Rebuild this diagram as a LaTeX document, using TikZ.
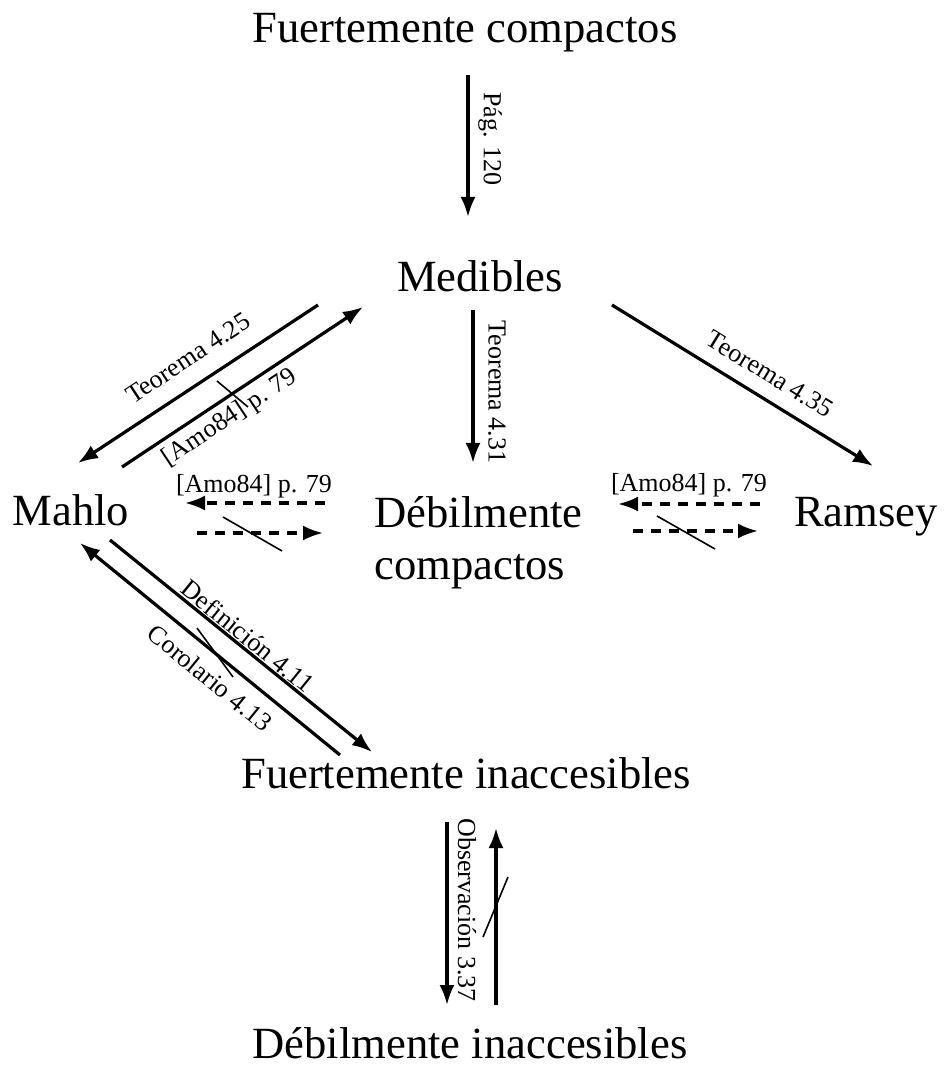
\documentclass[tikz,border=0pt]{standalone}
\usepackage{fontspec}
\setmainfont{Liberation Serif}
\usetikzlibrary{arrows.meta}
\tikzset{
  concept/.style={inner sep=0pt, anchor=base, font=\fontsize{22.3}{26}\selectfont},
  lbl/.style={inner sep=0pt, font=\fontsize{13}{15}\selectfont},
  flow/.style={-{Latex[length=10pt,width=7.5pt]}, line width=1.6pt},
  weak/.style={flow, dash pattern=on 5pt off 4pt},
  cut/.style={line width=0.8pt}
}

\begin{document}
\begin{tikzpicture}[x=0.5pt, y=-0.5pt]
\useasboundingbox (0,0) rectangle (943,1068);

% cardinal notions
\node[concept] (fc) at (465,43) {Fuertemente compactos};
\node[concept] (med) at (480,292) {Medibles};
\node[concept] (mahlo) at (71,525) {Mahlo};
\node[concept, anchor=base west, align=left] (dc) at (374,579) {Débilmente\\compactos};
\node[concept] (ramsey) at (866,526) {Ramsey};
\node[concept] (fi) at (466,788) {Fuertemente inaccesibles};
\node[concept] (di) at (470,1058) {Débilmente inaccesibles};

% arrow ends
\coordinate (fc-s) at (468,75);
\coordinate (med-n) at (468,217);
\coordinate (med-s) at (473,310);
\coordinate (dc-n) at (473,463);
\coordinate (med-sw) at (318,305);
\coordinate (mahlo-ne) at (78,463);
\coordinate (mahlo-e) at (122,467);
\coordinate (med-w) at (363,307);
\coordinate (med-se) at (612,305);
\coordinate (ramsey-nw) at (873,466);
\coordinate (dc-w1) at (325,503);
\coordinate (mahlo-e1) at (185,503);
\coordinate (mahlo-e2) at (197,533);
\coordinate (dc-w2) at (323,533);
\coordinate (ramsey-w1) at (760,504);
\coordinate (dc-e1) at (618,504);
\coordinate (dc-e2) at (633,531);
\coordinate (ramsey-w2) at (758,531);
\coordinate (mahlo-se) at (110,540);
\coordinate (fi-nw) at (372,752);
\coordinate (fi-w) at (340,755);
\coordinate (mahlo-s) at (80,543);
\coordinate (fi-s1) at (447,822);
\coordinate (di-n1) at (447,1005);
\coordinate (di-n2) at (496,1005);
\coordinate (fi-s2) at (496,828);

% implications
\draw[flow] (fc-s) -- (med-n);
\draw[flow] (med-s) -- (dc-n);
\draw[flow] (med-sw) -- (mahlo-ne);
\draw[flow] (mahlo-e) -- (med-w);
\draw[flow] (med-se) -- (ramsey-nw);
\draw[weak] (dc-w1) -- (mahlo-e1);
\draw[weak] (mahlo-e2) -- (dc-w2);
\draw[weak] (ramsey-w1) -- (dc-e1);
\draw[weak] (dc-e2) -- (ramsey-w2);
\draw[flow] (mahlo-se) -- (fi-nw);
\draw[flow] (fi-w) -- (mahlo-s);
\draw[flow] (fi-s1) -- (di-n1);
\draw[flow] (di-n2) -- (fi-s2);

% failed implications
\draw[cut] (217,381) -- (248,407);
\draw[cut] (223,517) -- (282,551);
\draw[cut] (657,516) -- (715,549);
\draw[cut] (197,628) -- (233,677);
\draw[cut] (508,877) -- (483,937);

% references
\node[lbl, rotate=-90] (pag) at (490,139) {Pág. 120};
\node[lbl, rotate=-90] (t431) at (497,392) {Teorema 4.31};
\node[lbl, rotate=-90] (obs) at (467,910) {Observación 3.37};
\node[lbl, rotate=33.4] (t425) at (188,358) {Teorema 4.25};
\node[lbl, rotate=33.6] (amo1) at (230,418) {[Amo84] p. 79};
\node[lbl, rotate=-31.7] (t435) at (770,374) {Teorema 4.35};
\node[lbl, rotate=-39] (def) at (248,636) {Definición 4.11};
\node[lbl, rotate=-39.2] (cor) at (210,678) {Corolario 4.13};
\node[lbl] (amo2) at (254,486) {[Amo84] p. 79};
\node[lbl] (amo3) at (689,485) {[Amo84] p. 79};

\end{tikzpicture}
\end{document}
